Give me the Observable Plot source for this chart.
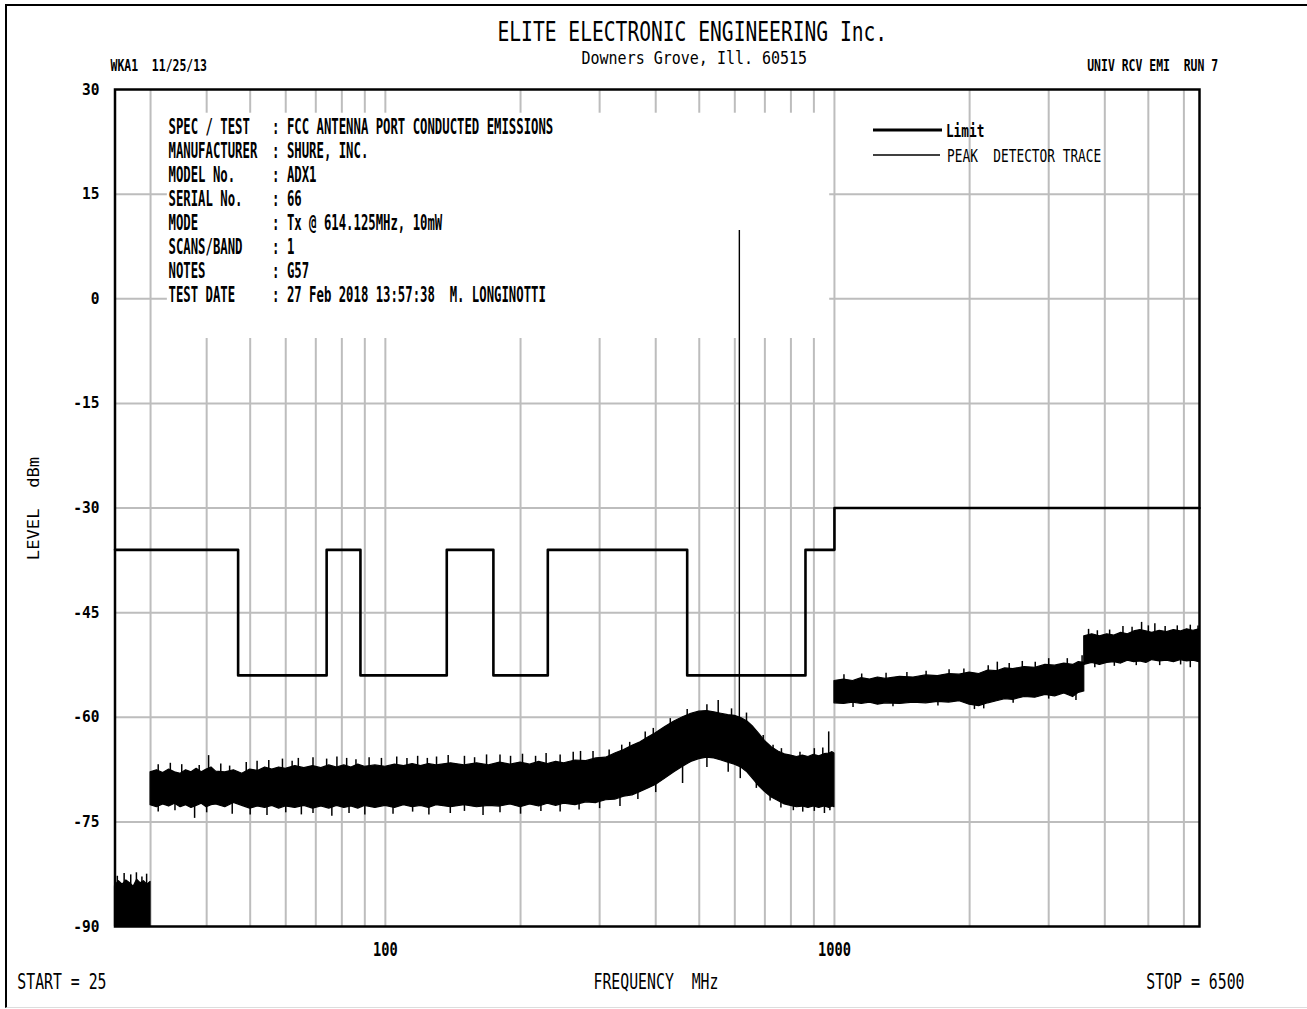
<!DOCTYPE html>
<html>
<head>
<meta charset="utf-8">
<script src="https://cdn.jsdelivr.net/npm/d3@7"></script>
<script src="https://cdn.jsdelivr.net/npm/@observablehq/plot@0.6"></script>
<style>
html, body { margin: 0; padding: 0; background: #fff; overflow: hidden; }
#wrap { position: relative; width: 1307px; height: 1009px; }
#border { position: absolute; left: 5px; top: 4px; right: -20px; bottom: 1px;
  border-left: 2.5px solid #000; border-top: 2.5px solid #000; border-bottom: 1px solid #ddd; pointer-events: none; }
svg text { white-space: pre; }
</style>
</head>
<body>
<div id="wrap"><div id="chart"></div><div id="border"></div></div>
<script>
// ---------- axes / grid ----------
const gridFreqs = [30, 40, 50, 60, 70, 80, 90, 100, 200, 300, 400, 500, 600, 700, 800, 900, 1000, 2000, 3000, 4000, 5000, 6000];
const gridLevels = [15, 0, -15, -30, -45, -60, -75];
const yTickValues = [30, 15, 0, -15, -30, -45, -60, -75, -90];
const xTickValues = [100, 1000];

// ---------- limit (step) ----------
const limitFreqs  = [25, 47, 74, 88, 137, 174, 230, 470, 862, 1000, 6500];
const limitLevels = [-36, -54, -36, -54, -36, -54, -36, -54, -36, -30, -30];

// ---------- peak detector trace: dense core envelope (dBm) ----------
const segAFreq = [25, 25.5, 26, 26.5, 27, 27.5, 28, 28.5, 29, 29.5, 30];
const segAHigh = [-84.2, -83.5, -84.0, -83.4, -83.8, -84.3, -83.3, -83.8, -83.5, -84.0, -83.6];
const segALow  = [-90, -90, -90, -90, -90, -90, -90, -90, -90, -90, -90];

const segBFreq = [30, 31, 32, 33, 34, 35, 36, 37, 38, 39, 40, 41, 42, 44, 46, 48, 50, 52, 54, 56, 58, 60,
  63, 66, 69, 72, 75, 78, 81, 84, 87, 90, 95, 100, 105, 110, 115, 120, 125, 130, 140, 150, 160, 170, 180,
  190, 200, 210, 220, 230, 240, 250, 265, 280, 295, 310, 325, 340, 355, 370, 385, 400, 420, 440, 460, 480,
  500, 520, 540, 560, 580, 600, 620, 640, 660, 680, 700, 725, 750, 775, 800, 825, 850, 875, 900, 925, 950,
  975, 990, 1000];
const segBHigh = [-67.9, -67.6, -68.0, -67.5, -67.9, -68.1, -67.6, -67.9, -67.4, -67.9, -67.5, -67.2, -67.8,
  -67.9, -67.6, -68.1, -67.5, -67.7, -67.2, -67.5, -67.2, -67.4,
  -67.0, -67.3, -67.0, -67.3, -66.9, -67.2, -66.9, -67.2, -66.8, -67.1, -66.9, -67.1, -66.8, -67.0, -66.7,
  -67.0, -66.7, -66.9, -66.6, -66.9, -66.6, -66.9, -66.5,
  -66.8, -66.5, -66.8, -66.4, -66.7, -66.4, -66.6, -66.2, -66.3, -65.9, -65.8, -65.2, -64.7, -64.1, -63.6,
  -62.9, -62.3, -61.4, -60.6, -60.0, -59.5,
  -59.2, -59.1, -59.3, -59.5, -59.7, -59.8, -60.1, -60.6, -61.4, -62.4, -63.4, -64.3, -64.9, -65.3, -65.5,
  -65.7, -65.5, -65.7, -65.4, -65.6, -65.3,
  -65.2, -65.0, -65.2];
const segBLow = [-72.6, -72.9, -72.5, -72.8, -72.4, -72.9, -72.6, -73.0, -72.7, -72.4, -72.9, -72.6, -72.5,
  -72.9, -72.3, -72.7, -73.1, -72.8, -73.0, -72.7, -73.1, -72.8,
  -73.0, -72.7, -73.1, -72.8, -73.1, -72.7, -73.0, -72.8, -73.1, -72.7, -73.0, -72.7, -73.0, -72.6, -72.9,
  -72.7, -73.0, -72.6, -72.9, -72.6, -72.9, -72.7, -72.8,
  -72.5, -72.9, -72.5, -72.8, -72.4, -72.7, -72.4, -72.6, -72.2, -72.3, -71.9, -71.8, -71.4, -71.2, -70.7,
  -70.2, -69.7, -68.8, -67.9, -67.1, -66.4,
  -66.0, -65.8, -65.9, -66.2, -66.5, -66.8, -67.2, -67.9, -68.9, -69.9, -70.7, -71.5, -72.0, -72.5, -72.7,
  -72.9, -72.8, -73.0, -72.8, -73.0, -72.8,
  -73.0, -72.8, -72.9];

const segCFreq = [1000, 1050, 1100, 1150, 1200, 1250, 1300, 1400, 1500, 1600, 1700, 1800, 1900, 2000, 2100,
  2200, 2300, 2400, 2500, 2650, 2800, 2950, 3100, 3250, 3400, 3500, 3600];
const segCHigh = [-54.8, -54.6, -54.8, -54.4, -54.6, -54.3, -54.5, -54.2, -54.3, -54.0, -54.1, -53.8, -53.9,
  -53.6, -53.8, -53.3, -53.4, -53.0, -53.1, -52.8, -52.9, -52.5, -52.6, -52.3, -52.5, -52.1, -52.2];
const segCLow  = [-58.0, -58.1, -57.9, -58.1, -57.9, -58.2, -58.0, -58.1, -57.9, -58.0, -57.8, -57.9, -57.7,
  -58.2, -58.4, -58.0, -57.7, -57.4, -57.5, -57.1, -57.2, -56.8, -57.0, -56.6, -57.1, -56.5, -56.3];

const segDFreq = [3600, 3750, 3900, 4050, 4200, 4350, 4500, 4650, 4800, 4950, 5100, 5300, 5500, 5700, 5900,
  6100, 6300, 6500];
const segDHigh = [-48.4, -48.1, -48.4, -48.1, -48.3, -47.9, -48.1, -47.7, -47.5, -47.7, -47.9, -47.6, -47.8,
  -47.5, -47.7, -47.4, -47.6, -47.4];
const segDLow  = [-52.5, -52.2, -52.5, -52.2, -52.1, -52.3, -51.9, -52.1, -52.0, -52.2, -51.8, -52.0, -51.9,
  -52.1, -51.8, -52.0, -51.9, -52.1];

// ---------- individual noise spikes sticking out of the core (MHz, from dBm, to dBm) ----------
const spikeFreq = [
  25.3, 26.2, 27.1, 27.9, 28.7, 29.4,
  31.2, 33.2, 35.2, 38.5, 40.4, 43, 45, 49, 51.8, 55, 59, 62, 64, 69, 74, 78, 82, 86, 92, 98, 106, 111.7,
  118, 124, 130, 138, 150, 158, 168, 180, 190, 202, 216, 228, 245, 262, 272, 290, 315, 336, 350, 379, 395,
  431, 470, 520, 551, 590, 637, 694, 730, 762, 838, 902, 942, 971,
  31.2, 34, 37.6, 40, 45.6, 50, 54.5, 60, 65, 69, 76, 83, 90, 104, 115, 125, 139.5, 150, 165, 180, 200, 222,
  245, 270, 300, 333, 365, 400, 459, 520, 580, 617, 670, 719, 760, 810, 850, 902, 950, 977,
  1050, 1150, 1303, 1450, 1600, 1800, 1942, 2200, 2305, 2450, 2620, 2800, 3000, 3300, 3560,
  1100, 1350, 1700, 2050, 2150, 2500, 3000, 3450,
  3680, 3850, 4100, 4390, 4600, 4830, 5000, 5170, 5450, 5800, 6200, 6450,
  3800, 4200, 4700, 5300, 5900, 6200];
const spikeBase = [
  -86, -86, -86, -86, -86, -86,
  -70, -70, -70, -70, -70, -70, -70, -70, -70, -70, -70, -70, -70, -70, -70, -70, -70, -70, -70, -70, -70, -70,
  -70, -70, -70, -70, -70, -70, -70, -70, -70, -70, -70, -70, -70, -70, -70, -70, -70, -66, -66, -66, -66,
  -66, -66, -63, -63, -63, -63, -68, -68, -68, -68, -68, -68, -68,
  -70, -70, -70, -70, -70, -70, -70, -70, -70, -70, -70, -70, -70, -70, -70, -70, -70, -70, -70, -70, -70, -70,
  -70, -70, -70, -68, -67, -66, -64, -63, -63, -64, -67, -68, -69, -70, -70, -70, -70, -70,
  -56, -56, -56, -56, -56, -56, -56, -56, -56, -56, -56, -56, -56, -56, -56,
  -56, -56, -56, -56, -56, -56, -56, -56,
  -50, -50, -50, -50, -50, -50, -50, -50, -50, -50, -50, -50,
  -50, -50, -50, -50, -50, -50];
const spikeTip = [
  -82.8, -82.4, -82.6, -82.3, -82.9, -82.5,
  -66.8, -66.6, -66.8, -66.9, -65.5, -66.7, -67.0, -66.5, -66.3, -66.2, -66.0, -66.3, -65.9, -65.8, -66.0,
  -65.7, -65.9, -66.1, -65.8, -65.9, -65.7, -65.9,
  -65.6, -65.9, -65.7, -65.5, -65.6, -65.8, -65.4, -65.4, -65.6, -65.3, -65.6, -65.2, -65.4, -65.0, -64.9,
  -64.9, -64.7, -64.0, -63.6, -62.1, -61.6,
  -60.2, -58.9, -58.2, -57.6, -58.8, -59.4, -62.6, -64.0, -64.5, -65.0, -64.5, -64.4, -62.1,
  -73.6, -73.4, -74.5, -73.7, -73.9, -74.0, -74.1, -73.7, -74.0, -73.8, -74.2, -73.8, -74.0, -73.9, -73.6,
  -74.0, -73.8, -73.5, -74.1, -73.7, -73.9, -73.5,
  -73.6, -73.3, -73.1, -72.8, -71.8, -70.8, -69.5, -67.2, -67.9, -68.8, -70.2, -72.0, -73.0, -73.4, -73.6,
  -73.5, -73.8, -73.4,
  -53.9, -53.8, -53.7, -53.6, -53.4, -53.2, -53.1, -52.6, -52.1, -52.3, -52.0, -52.1, -51.6, -51.6, -51.2,
  -58.6, -58.5, -58.4, -58.9, -58.8, -58.0, -57.4, -57.6,
  -47.4, -47.6, -47.5, -47.0, -47.1, -46.4, -46.9, -46.6, -47.0, -46.9, -46.8, -46.9,
  -52.9, -52.7, -52.6, -52.6, -52.5, -52.9];

// carrier spike
const carrierFreq = [614.125];
const carrierPeak = [9.8];
const carrierBase = [-66];

// ---------- texts ----------
const titleText = ["ELITE ELECTRONIC ENGINEERING Inc."];
const addressText = ["Downers Grove, Ill. 60515"];
const leftHeader = ["WKA1  11/25/13"];
const rightHeader = ["UNIV RCV EMI  RUN 7"];
const specLabels = ["SPEC / TEST", "MANUFACTURER", "MODEL No.", "SERIAL No.", "MODE", "SCANS/BAND", "NOTES", "TEST DATE"];
const specValues = ["FCC ANTENNA PORT CONDUCTED EMISSIONS", "SHURE, INC.", "ADX1", "66", "Tx @ 614.125MHz, 10mW", "1", "G57", "27 Feb 2018 13:57:38  M. LONGINOTTI"];
const legendLabels = ["Limit", "PEAK  DETECTOR TRACE"];
const startText = ["START = 25"];
const stopText = ["STOP = 6500"];
const xLabel = ["FREQUENCY  MHz"];
const yLabel = ["LEVEL  dBm"];

// annotation box that hides the grid behind the spec text
const noteBox = {f1: 32.7, f2: 976, l1: -5.7, l2: 26.6};

// ---------- build tables ----------
const seg = (name, F, H, L) => F.map((f, i) => ({seg: name, f, hi: H[i], lo: L[i]}));
const trace = [
  ...seg("A", segAFreq, segAHigh, segALow),
  ...seg("B", segBFreq, segBHigh, segBLow),
  ...seg("C", segCFreq, segCHigh, segCLow),
  ...seg("D", segDFreq, segDHigh, segDLow)
];
const spikes = spikeFreq.map((f, i) => ({f, base: spikeBase[i], tip: spikeTip[i]}));
const limit = limitFreqs.map((f, i) => ({f, v: limitLevels[i]}));
const carrier = carrierFreq.map((f, i) => ({f, peak: carrierPeak[i], base: carrierBase[i]}));
const specBlock = specLabels.map((l, i) => l.padEnd(14) + ": " + specValues[i]).join("\n");

const MONO = "DejaVu Sans Mono, Liberation Mono, monospace";
const GRID = "#bdbdbd";
const T = (data, opts, sx) => Plot.text(data, {fontFamily: MONO, fill: "black", ariaDescription: "sx:" + sx, ...opts});

const chart = Plot.plot({
  width: 1307,
  height: 1009,
  marginLeft: 114.5,
  marginRight: 108,
  marginTop: 89,
  marginBottom: 83,
  style: {background: "white", overflow: "visible"},
  x: {type: "log", domain: [25, 6500], axis: null},
  y: {domain: [-90, 30], axis: null},
  marks: [
    Plot.ruleX(gridFreqs, {x: d => d, stroke: GRID, strokeWidth: 2}),
    Plot.ruleY(gridLevels, {y: d => d, stroke: GRID, strokeWidth: 2}),
    Plot.rect([noteBox], {x1: "f1", x2: "f2", y1: "l1", y2: "l2", fill: "white"}),
    T([specBlock], {frameAnchor: "top-left", dx: 53.5, dy: 27.5, textAnchor: "start", lineAnchor: "top",
      fontSize: 20.6, lineHeight: 1.165, fontWeight: "bold"}, 0.597),
    Plot.line(limit, {x: "f", y: "v", curve: "step-after", stroke: "black", strokeWidth: 2.6}),
    Plot.areaY(trace, {x: "f", y1: "lo", y2: "hi", z: "seg", fill: "black", stroke: "black", strokeWidth: 1.2}),
    Plot.ruleX(spikes, {x: "f", y1: "base", y2: "tip", stroke: "black", strokeWidth: 1.5}),
    Plot.ruleX(carrier, {x: "f", y1: "base", y2: "peak", stroke: "black", strokeWidth: 1.4}),
    Plot.frame({stroke: "black", strokeWidth: 2.5}),
    // tick labels
    T(yTickValues, {y: d => d, text: d => String(d), frameAnchor: "left", dx: -15.5, dy: 5, textAnchor: "end",
      fontSize: 16.5, fontWeight: "bold"}, 0.88),
    T(xTickValues, {x: d => d, text: d => String(d), frameAnchor: "bottom", dy: 29.5, textAnchor: "middle",
      fontSize: 19, fontWeight: "bold"}, 0.72),
    // header
    T(titleText, {frameAnchor: "top-left", dx: 382.5, dy: -48.5, textAnchor: "start", fontSize: 26}, 0.755),
    T(addressText, {frameAnchor: "top-left", dx: 466.5, dy: -25.5, textAnchor: "start", fontSize: 18.3}, 0.82),
    T(leftHeader, {frameAnchor: "top-left", dx: -4.5, dy: -19, textAnchor: "start", fontSize: 16, fontWeight: "bold"}, 0.716),
    T(rightHeader, {frameAnchor: "top-right", dx: 18.7, dy: -19, textAnchor: "end", fontSize: 16, fontWeight: "bold"}, 0.716),
    // legend
    T([legendLabels[0]], {frameAnchor: "top-right", dx: -253.6, dy: 47, textAnchor: "start", fontSize: 18.3, fontWeight: "bold"}, 0.70),
    T([legendLabels[1]], {frameAnchor: "top-right", dx: -252.4, dy: 72.5, textAnchor: "start", fontSize: 18.3}, 0.70),
    // footer
    T(startText, {frameAnchor: "bottom-left", dx: -97.7, dy: 62, textAnchor: "start", fontSize: 20.6}, 0.72),
    T(xLabel, {frameAnchor: "bottom-left", dx: 478.5, dy: 62, textAnchor: "start", fontSize: 20.6}, 0.72),
    T(stopText, {frameAnchor: "bottom-right", dx: 45, dy: 62, textAnchor: "end", fontSize: 20.6}, 0.72),
    T(yLabel, {frameAnchor: "left", dx: -76.5, dy: 0.5, rotate: -90, textAnchor: "middle", fontSize: 16.5}, 1.04)
  ]
});

// horizontal squeeze of the plotter-style monospaced lettering
chart.querySelectorAll("g[aria-description]").forEach(g => {
  const m = /^sx:([\d.]+)$/.exec(g.getAttribute("aria-description") || "");
  if (!m) return;
  const s = +m[1];
  g.querySelectorAll("text").forEach(t => {
    const x = +t.getAttribute("x") || 0, y = +t.getAttribute("y") || 0;
    const tr = t.getAttribute("transform") || "";
    t.removeAttribute("x"); t.removeAttribute("y");
    t.setAttribute("transform", `${tr} translate(${x},${y}) scale(${s},1)`);
  });
});

// legend swatches (frame-relative)
const svgSel = d3.select(chart.tagName.toLowerCase() === "svg" ? chart : chart.querySelector("svg"));
const frameRight = 1307 - 108, frameTop = 89;
svgSel.append("line").attr("x1", frameRight - 326).attr("x2", frameRight - 257).attr("y1", frameTop + 41).attr("y2", frameTop + 41)
  .attr("stroke", "black").attr("stroke-width", 3);
svgSel.append("line").attr("x1", frameRight - 326).attr("x2", frameRight - 259).attr("y1", frameTop + 66).attr("y2", frameTop + 66)
  .attr("stroke", "black").attr("stroke-width", 1.3);

document.getElementById("chart").appendChild(chart);
</script>
</body>
</html>
